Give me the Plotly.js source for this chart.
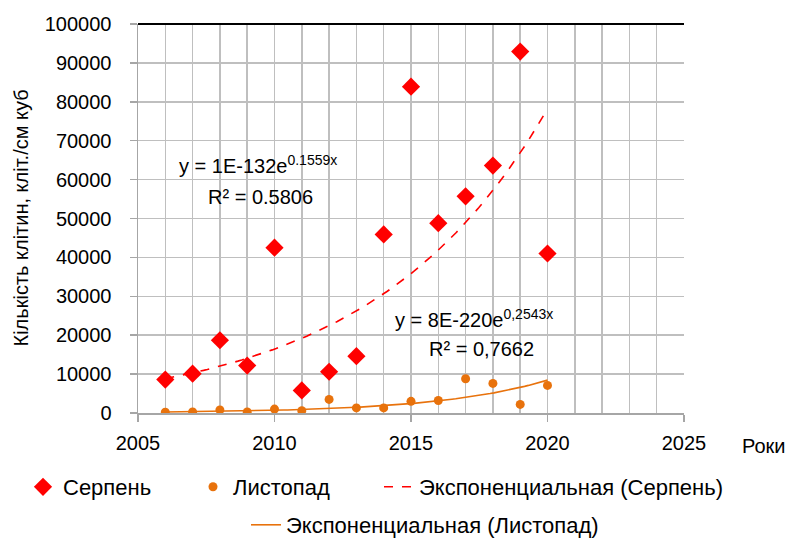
<!DOCTYPE html>
<html><head><meta charset="utf-8">
<script src="https://cdn.plot.ly/plotly-3.0.1.min.js"></script>
<style>body{margin:0;background:#fff}#c{width:788px;height:541px}</style>
</head><body><div id="c"></div>
<script>
const years = [2006,2007,2008,2009,2010,2011,2012,2013,2014,2015,2016,2017,2018,2019,2020];
const serpen = [8600,10100,18700,12200,42500,5800,10600,14600,45900,83900,48800,55700,63600,92900,41000];
const lystopad = [180,250,800,250,1000,600,3500,1300,1300,3000,3200,8800,7600,2200,7100];
const nameSerpen = "Серпень";
const nameLystopad = "Листопад";
const nameTrendS = "Экспоненциальная (Серпень)";
const nameTrendL = "Экспоненциальная (Листопад)";
const eqS = ["y = 1E-132e<sup>0.1559x</sup>", "R² = 0.5806"];
const eqL = ["y = 8E-220e<sup>0,2543x</sup>", "R² = 0,7662"];
const yTitle = "Кількість клітин, кліт./см куб";
const xTitle = "Роки";

// Exponential least-squares fit on ln(y), like spreadsheet trendlines
function expFit(xs, ys){
  const n = xs.length; let sx=0, sy=0, sxx=0, sxy=0;
  const x0 = xs[0];
  for(let i=0;i<n;i++){const x=xs[i]-x0, l=Math.log(ys[i]); sx+=x; sy+=l; sxx+=x*x; sxy+=x*l;}
  const b=(n*sxy-sx*sy)/(n*sxx-sx*sx), a=(sy-b*sx)/n;
  const fx=[], fy=[];
  const steps=100;
  for(let k=0;k<=steps;k++){const x=xs[0]+(xs[n-1]-xs[0])*k/steps; fx.push(x); fy.push(Math.exp(a+b*(x-x0)));}
  return {x:fx,y:fy};
}
const fS = expFit(years, serpen), fL = expFit(years, lystopad);
const F = "Liberation Sans, Arial, sans-serif";
const FS = 20, LFS = 22;
const data = [
  {x:years,y:serpen,type:'scatter',mode:'markers',name:nameSerpen,legend:'legend',
   marker:{symbol:'diamond',size:14,color:'#ff0000'}},
  {x:years,y:lystopad,type:'scatter',mode:'markers',name:nameLystopad,legend:'legend2',
   marker:{symbol:'circle',size:9,color:'#e8720c'}},
  {x:fS.x,y:fS.y,type:'scatter',mode:'lines',name:nameTrendS,legend:'legend3',
   line:{color:'#ff0000',width:1.6,dash:'dash'}},
  {x:fL.x,y:fL.y,type:'scatter',mode:'lines',name:nameTrendL,legend:'legend4',
   line:{color:'#e8720c',width:1.6}}
];
function leg(px, py){
  return {orientation:'h',xref:'container',yref:'container',x:px/788,xanchor:'left',
    y:1-py/541,yanchor:'middle',font:{family:F,size:LFS},bgcolor:'rgba(0,0,0,0)'};
}
const layout = {
  width:788,height:541,margin:{l:138,r:104,t:24,b:128},
  paper_bgcolor:'#fff',plot_bgcolor:'#fff',
  font:{family:F,size:FS,color:'#000'},
  showlegend:true,
  legend:leg(23,487), legend2:leg(193,487), legend3:leg(379,487), legend4:leg(246,525),
  xaxis:{range:[2005,2025],dtick:5,tick0:2005,showgrid:true,gridcolor:'#bfbfbf',gridwidth:1.5,
    minor:{dtick:1,showgrid:true,gridcolor:'#bfbfbf',gridwidth:1.5},
    ticks:'outside',ticklen:7,tickcolor:'#a6a6a6',tickwidth:1.5,showline:true,linecolor:'#a6a6a6',linewidth:1.5,
    zeroline:false,tickfont:{family:F,size:FS},ticklabelstandoff:4,automargin:false},
  yaxis:{range:[0,100000],dtick:10000,tickformat:'d',showgrid:true,gridcolor:'#bfbfbf',gridwidth:1.5,
    ticks:'outside',ticklen:7,tickcolor:'#a6a6a6',tickwidth:1.5,showline:true,linecolor:'#a6a6a6',linewidth:1.5,
    zeroline:false,tickfont:{family:F,size:FS},ticklabelstandoff:14,automargin:false},
  shapes:[{type:'line',xref:'paper',yref:'paper',x0:0,x1:1,y0:1,y1:1,line:{color:'#000',width:2}}],
  annotations:[
    {xref:'paper',yref:'paper',x:(20-138)/546,y:0.5,xanchor:'center',yanchor:'middle',textangle:-90,
     text:yTitle,showarrow:false,font:{family:F,size:FS}},
    {xref:'paper',yref:'paper',x:(740-138)/546,y:-(446-413)/389,xanchor:'left',yanchor:'middle',text:xTitle,showarrow:false,font:{family:F,size:FS}},
    {xref:'x',yref:'y',x:2009.4,y:63800,text:eqS[0],showarrow:false,font:{family:F,size:FS}},
    {xref:'x',yref:'y',x:2009.5,y:55500,text:eqS[1],showarrow:false,font:{family:F,size:FS}},
    {xref:'x',yref:'y',x:2017.3,y:24200,text:eqL[0],showarrow:false,font:{family:F,size:FS}},
    {xref:'x',yref:'y',x:2017.6,y:16450,text:eqL[1],showarrow:false,font:{family:F,size:FS}}
  ]
};
Plotly.newPlot('c',data,layout,{displayModeBar:false,staticPlot:true});
</script></body></html>
